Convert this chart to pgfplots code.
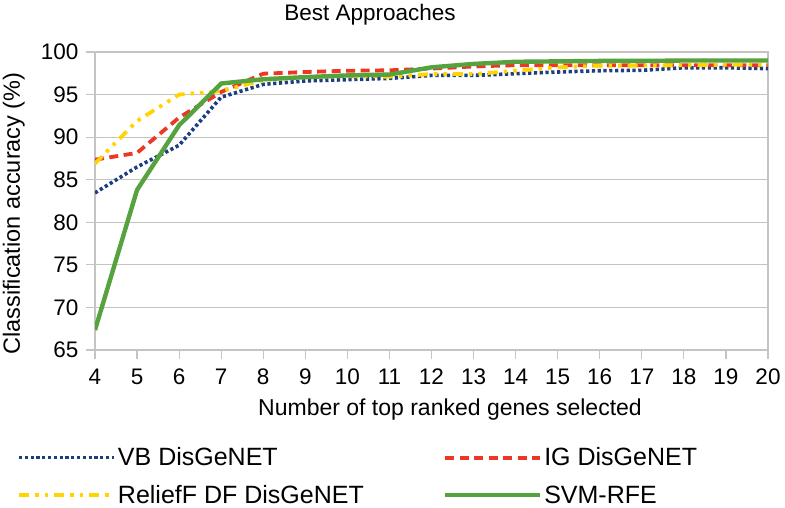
\documentclass[border=0pt]{standalone}
\usepackage{fontspec}
\setmainfont{Liberation Sans}
\usepackage{pgfplots}
\pgfplotsset{compat=1.18}
\definecolor{vbblue}{RGB}{30,62,128}
\definecolor{igred}{RGB}{235,55,35}
\definecolor{rfyellow}{RGB}{255,212,0}
\definecolor{svmgreen}{RGB}{86,162,62}
\definecolor{gridgray}{RGB}{196,196,196}
\begin{document}
\begin{tikzpicture}[x=1pt,y=1pt]
\useasboundingbox (0,0) rectangle (785,508);
\begin{axis}[
  at={(95pt,158pt)}, anchor=south west,
  scale only axis, width=673pt, height=298pt,
  xmin=4, xmax=20, ymin=65, ymax=100,
  xtick={4,5,...,20}, ytick={65,70,...,100},
  ymajorgrids,
  grid style={draw=gridgray, line width=1.2pt},
  axis line style={draw=gridgray, line width=1.2pt},
  tick align=outside,
  tick style={draw=gridgray, line width=1.2pt},
  major tick length=9pt,
  xtick pos=left, ytick pos=left,
  ticklabel style={font=\fontsize{22.5}{26}\selectfont},
  yticklabel style={xshift=-4pt},
  xticklabel style={yshift=-6pt},
  /pgf/number format/assume math mode=true,
  legend columns=2,
  legend cell align=left,
  legend style={draw=none, fill=none, at={(-0.1159,-0.321)}, anchor=north west,
    inner sep=0pt, row sep=14pt,
    font=\fontsize{25}{30}\selectfont,
    /tikz/every even column/.append style={column sep=77pt}},
  legend image code/.code={\draw[#1] (0pt,0pt) -- (95pt,0pt);},
]
\addplot[vbblue, line width=3.6pt, dash pattern=on 3.2pt off 2.6pt] coordinates {
(4,83.45) (5,86.5) (6,89.05) (7,94.7) (8,96.2) (9,96.6) (10,96.75) (11,96.9) (12,97.25) (13,97.25) (14,97.45) (15,97.65) (16,97.8) (17,97.85) (18,98.15) (19,98.15) (20,98.05)};
\addlegendentry{VB DisGeNET}
\addplot[igred, line width=3.8pt, dash pattern=on 9pt off 5.5pt] coordinates {
(4,87.35) (5,88.15) (6,92.3) (7,95.3) (8,97.45) (9,97.65) (10,97.8) (11,97.85) (12,98.05) (13,98.3) (14,98.45) (15,98.45) (16,98.45) (17,98.45) (18,98.45) (19,98.45) (20,98.45)};
\addlegendentry{IG DisGeNET}
\addplot[rfyellow, line width=3.8pt, dash pattern=on 10pt off 6pt on 3.5pt off 6pt on 3.5pt off 6pt] coordinates {
(4,86.9) (5,91.9) (6,95.0) (7,95.4) (8,96.7) (9,97.05) (10,97.15) (11,97.1) (12,97.4) (13,97.4) (14,97.8) (15,98.2) (16,98.4) (17,98.4) (18,98.45) (19,98.5) (20,98.5)};
\addlegendentry{ReliefF DF DisGeNET}
\addplot[svmgreen, line width=4.4pt] coordinates {
(4,67.35) (5,83.8) (6,91.4) (7,96.3) (8,96.8) (9,97.05) (10,97.25) (11,97.35) (12,98.2) (13,98.6) (14,98.85) (15,98.9) (16,98.95) (17,98.95) (18,99.0) (19,99.0) (20,99.0)};
\addlegendentry{SVM-RFE}
\end{axis}
\node[anchor=base, font=\fontsize{22.5}{26}\selectfont, inner sep=0pt] at (370,487) {Best Approaches};
\node[anchor=base, font=\fontsize{23}{27}\selectfont, inner sep=0pt] at (450,92) {Number of top ranked genes selected};
\node[anchor=base, rotate=90, font=\fontsize{23.5}{27}\selectfont, inner sep=0pt] at (20,294.5) {Classification accuracy (\%)};
\end{tikzpicture}
\end{document}
